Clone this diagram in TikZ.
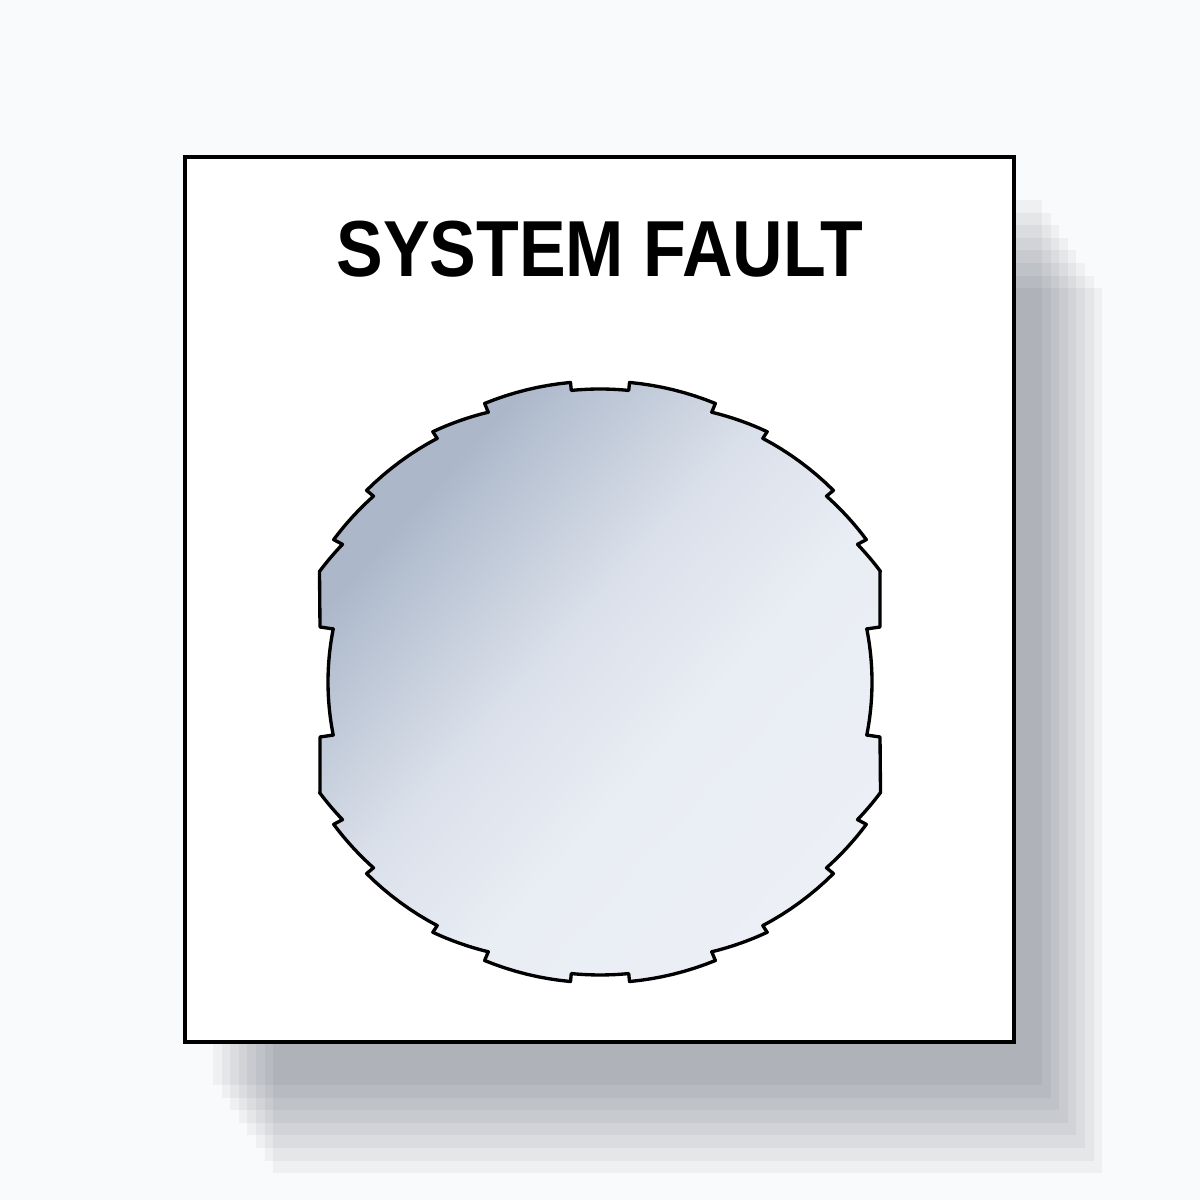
\documentclass[tikz,border=0pt]{standalone}
\usepackage{fontspec}
\newfontfamily\platefont{Liberation Sans}[FakeStretch=0.88]

\definecolor{pagebg}{RGB}{249,250,251}
\definecolor{shadowink}{RGB}{10,20,40}
\definecolor{lensdark}{RGB}{172,184,202}
\definecolor{lensmid}{RGB}{218,224,234}
\definecolor{lenslight}{RGB}{233,237,244}
\definecolor{lenspale}{RGB}{240,243,248}

\pgfdeclarehorizontalshading{lens}{100bp}{color(0bp)=(lensdark); color(28bp)=(lensdark); color(45bp)=(lensmid); color(58bp)=(lenslight); color(100bp)=(lenspale)}

% one piece of the rim: angle #1 to #2, radius #3 to #4
\newcommand{\lensseg}[4]{-- plot[domain=0:1, samples=9, variable=\t] ({#1+(#2-#1)*\t}:{#3+(#4-#3)*\t})}

\begin{document}
\begin{tikzpicture}[x=0.01cm, y=0.01cm,
  shadowlayer/.style={fill=shadowink, fill opacity=0.045},
  plate/.style={draw=black, fill=white, line width=1.05pt},
  lensrim/.style={draw=black, line width=0.95pt, line join=round, shading=lens, shading angle=-42}]
\fill[pagebg] (0,0) rectangle (1200,1200);
\useasboundingbox (0,0) rectangle (1200,1200);

% stepped shadow of the plate
\foreach \i in {0,...,7}
\fill[shadowlayer, shift={({28+8.6*\i},{-43-12.6*\i})}] (185,158) rectangle (1014,1043);

\coordinate (plateSW) at (185,158);
\coordinate (plateNE) at (1014,1043);
\draw[plate] (plateSW) rectangle (plateNE);

\node[anchor=base, inner sep=0pt, font=\platefont\bfseries\fontsize{22.6pt}{26pt}\selectfont] (title) at (600,923) {SYSTEM FAULT};

% the opening with its notches
\coordinate (lenscentre) at (600,518);
\begin{scope}[shift={(lenscentre)}]
\shadedraw[lensrim] (-11.25:272) arc[start angle=-11.25, end angle=11.25, radius=272] -- (280,55) -- (280,110.6)
 \lensseg{21.5}{28.125}{301.5}{292}
 \lensseg{28.125}{39.375}{302}{293}
 \lensseg{39.375}{56.25}{302}{293}
 \lensseg{56.25}{67.5}{301}{292}
 \lensseg{67.5}{84.375}{301.5}{301}
 \lensseg{84.375}{95.625}{293}{293}
 \lensseg{95.625}{112.5}{301}{301.5}
 \lensseg{112.5}{123.75}{292}{301}
 \lensseg{123.75}{140.625}{293}{302}
 \lensseg{140.625}{151.875}{293}{302}
 \lensseg{151.875}{158.5}{292}{301.5}
 -- (-280,55) -- (168.75:272) arc[start angle=168.75, end angle=191.25, radius=272] -- (-280,-55) -- (-280,-110.6)
 \lensseg{201.5}{208.125}{301.5}{292}
 \lensseg{208.125}{219.375}{302}{293}
 \lensseg{219.375}{236.25}{302}{293}
 \lensseg{236.25}{247.5}{301}{292}
 \lensseg{247.5}{264.375}{301.5}{301}
 \lensseg{264.375}{275.625}{293}{293}
 \lensseg{275.625}{292.5}{301}{301.5}
 \lensseg{292.5}{303.75}{292}{301}
 \lensseg{303.75}{320.625}{293}{302}
 \lensseg{320.625}{331.875}{293}{302}
 \lensseg{331.875}{338.5}{292}{301.5}
 -- (280,-55) -- cycle;
\end{scope}
\end{tikzpicture}
\end{document}
